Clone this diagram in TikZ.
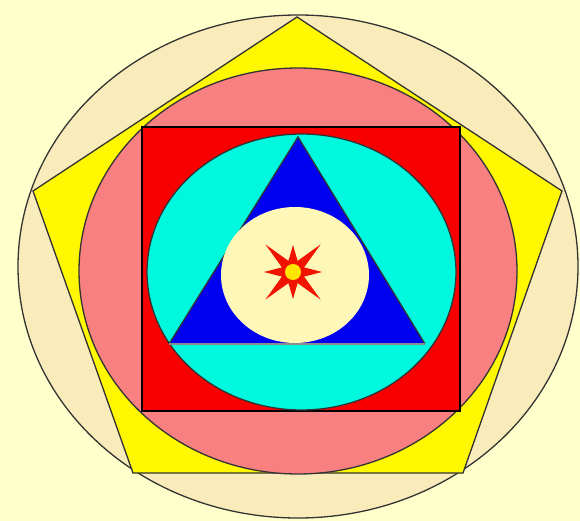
\documentclass[tikz,border=0pt]{standalone}
\usepackage{tikz}
\definecolor{paper}{RGB}{255, 255, 204}
\definecolor{outerring}{RGB}{250, 236, 186}
\definecolor{pentayellow}{RGB}{255, 248, 0}
\definecolor{pinkdisc}{RGB}{248, 128, 128}
\definecolor{squarered}{RGB}{248, 0, 0}
\definecolor{cyandisc}{RGB}{0, 248, 222}
\definecolor{triblue}{RGB}{0, 0, 240}
\definecolor{creamdisc}{RGB}{255, 247, 184}
\definecolor{starred}{RGB}{240, 20, 0}
\definecolor{stareye}{RGB}{255, 230, 0}
\tikzset{
  outline/.style={draw=black!80, line width=1.3pt},
  squareline/.style={draw=black, line width=1.6pt},
  baseline/.style={draw=black!45, line width=2pt}
}

\begin{document}
\begin{tikzpicture}[x=1pt, y=-1pt]

  % Paper
  \fill[paper] (0,0) rectangle (580,521);
  \useasboundingbox (0,0) rectangle (580,521);

  % Outer ring and pentagon
  \draw[outline, fill=outerring] (298,266.5) ellipse [x radius=280, y radius=251.5];
  \draw[outline, fill=pentayellow] (297,17) -- (562,191) -- (463,473) -- (133,473) -- (33,191) -- cycle;

  % Pink disc and red square
  \draw[outline, fill=pinkdisc] (298,271) ellipse [x radius=219, y radius=203];
  \draw[squareline, fill=squarered] (142,127) rectangle (460,411);

  % Cyan disc and blue triangle
  \draw[outline, fill=cyandisc] (301.5,272) ellipse [x radius=154.5, y radius=138];
  \draw[outline, fill=triblue] (425,344) -- (298,137) -- (169,344);
  \draw[baseline] (169,344) -- (425,344);

  % Inner disc
  \fill[creamdisc] (295,275) ellipse [x radius=74, y radius=68];

  % Star
  \coordinate (star) at (293,272);
  \begin{scope}[shift={(star)}]
    \fill[starred] (0:29)
      \foreach \a/\r in {22.5/12, 45/39, 67.5/12, 90/27, 112.5/12, 135/39, 157.5/12, 180/29,
                         202.5/12, 225/39, 247.5/12, 270/27, 292.5/12, 315/39, 337.5/12} { -- (\a:\r) }
      -- cycle;
    \fill[stareye] (0,0) circle [radius=8];
  \end{scope}

\end{tikzpicture}
\end{document}
